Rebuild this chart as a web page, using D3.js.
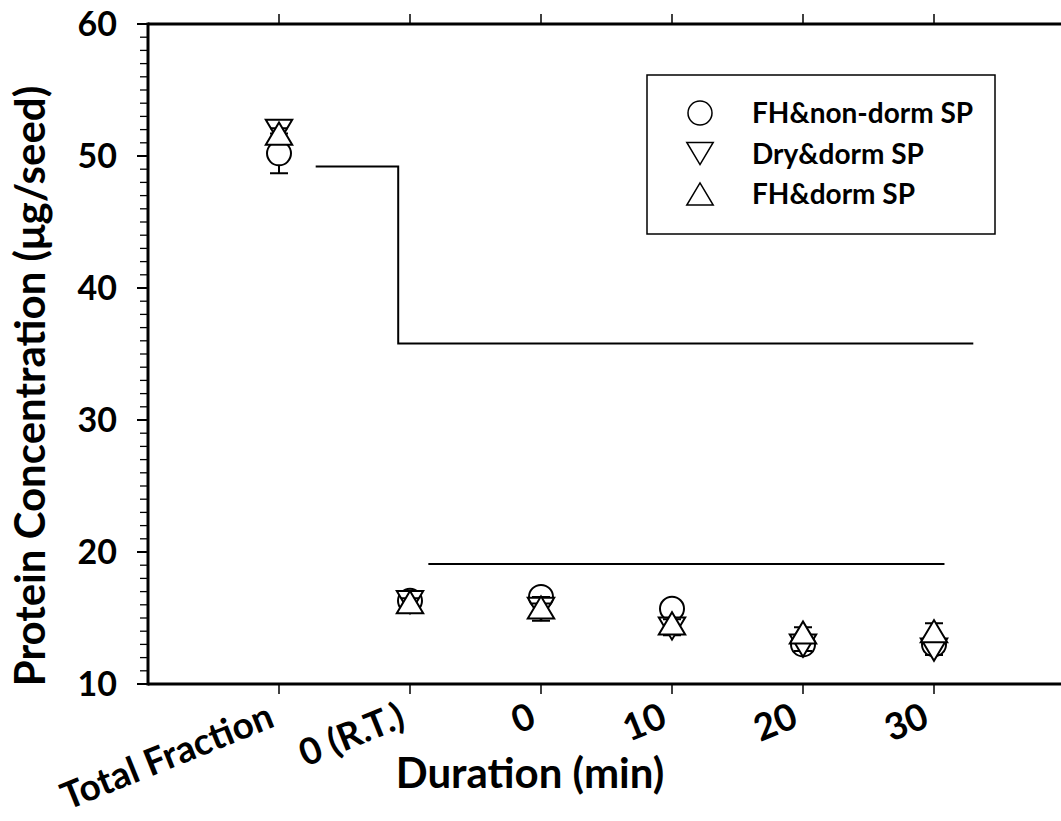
<!DOCTYPE html>
<html>
<head>
<meta charset="utf-8">
<script src="https://cdn.jsdelivr.net/npm/d3@7"></script>
<style>
  body { margin: 0; background: #fff; }
  text { font-family: Lato, "Open Sans", sans-serif; font-weight: bold; fill: #000; }
</style>
</head>
<body>
<div id="chart"></div>
<script>
// categories on the x axis
var categories = ["Total Fraction", "0 (R.T.)", "0", "10", "20", "30"];

// series values (mean, error)
var seriesNames = ["FH&non-dorm SP", "Dry&dorm SP", "FH&dorm SP"];
var circleVals = [50.2, 16.3, 16.6, 15.7, 13.0, 13.0];
var circleErr  = [1.5, 0.3, 0.3, 0.3, 0.3, 0.3];
var downVals   = [51.9, 16.2, 15.7, 14.2, 12.9, 12.6];
var downErr    = [0.5, 0.8, 0.9, 0.5, 0.4, 0.4];
var upVals     = [51.7, 16.2, 15.8, 14.6, 13.9, 14.0];
var upErr      = [0.4, 0.3, 0.3, 0.3, 0.4, 0.6];

// y ticks
var yMajor = [10, 20, 30, 40, 50, 60];
var yMinor = d3.range(10, 61, 1);

// significance lines (x in category index units, y in data units)
var stepX = [0.28, 0.91, 0.91, 5.30];
var stepY = [49.2, 49.2, 35.8, 35.8];
var flatX = [1.14, 5.08];
var flatY = [19.1, 19.1];

var W = 1061, H = 821;
var pLeft = 148, pRight = 1065, pTop = 24, pBottom = 684;

var svg = d3.select("#chart")
  .append("svg")
    .attr("width", W)
    .attr("height", H);

var x = d3.scaleLinear().domain([-1, 6]).range([pLeft, pRight]);
var y = d3.scaleLinear().domain([10, 60]).range([pBottom, pTop]);

// frame
svg.append("line").attr("x1", pLeft).attr("x2", pRight).attr("y1", pTop).attr("y2", pTop)
  .attr("stroke", "#000").attr("stroke-width", 3);
svg.append("line").attr("x1", pLeft).attr("x2", pRight).attr("y1", pBottom).attr("y2", pBottom)
  .attr("stroke", "#000").attr("stroke-width", 3);
svg.append("line").attr("x1", pLeft).attr("x2", pLeft).attr("y1", pTop - 1.5).attr("y2", pBottom + 1.5)
  .attr("stroke", "#000").attr("stroke-width", 3);

// y ticks (outward)
svg.selectAll(".ymin")
  .data(yMinor)
  .enter()
  .append("line")
    .attr("x1", pLeft - 8).attr("x2", pLeft)
    .attr("y1", function(d) { return y(d); })
    .attr("y2", function(d) { return y(d); })
    .attr("stroke", "#000").attr("stroke-width", 1.3);

svg.selectAll(".ymaj")
  .data(yMajor)
  .enter()
  .append("line")
    .attr("x1", pLeft - 11).attr("x2", pLeft)
    .attr("y1", function(d) { return y(d); })
    .attr("y2", function(d) { return y(d); })
    .attr("stroke", "#000").attr("stroke-width", 2);

svg.selectAll(".ylab")
  .data(yMajor)
  .enter()
  .append("text")
    .attr("x", 117)
    .attr("y", function(d) { return y(d) + 12; })
    .attr("text-anchor", "end")
    .style("font-size", "34px")
    .text(function(d) { return d; });

// x ticks top and bottom
var idx = d3.range(categories.length);
svg.selectAll(".xtb")
  .data(idx)
  .enter()
  .append("line")
    .attr("x1", function(d) { return x(d); })
    .attr("x2", function(d) { return x(d); })
    .attr("y1", pBottom).attr("y2", pBottom + 10)
    .attr("stroke", "#000").attr("stroke-width", 1.5);
svg.selectAll(".xtt")
  .data(idx)
  .enter()
  .append("line")
    .attr("x1", function(d) { return x(d); })
    .attr("x2", function(d) { return x(d); })
    .attr("y1", pTop - 10).attr("y2", pTop)
    .attr("stroke", "#000").attr("stroke-width", 1.5);

svg.selectAll(".xlab")
  .data(categories)
  .enter()
  .append("text")
    .attr("text-anchor", "end")
    .style("font-size", "37px")
    .attr("transform", function(d, i) {
      return "translate(" + (x(i) - 3) + "," + 726 + ")rotate(-22)";
    })
    .text(function(d) { return d; });

// axis titles
svg.append("text")
  .attr("x", 530).attr("y", 788)
  .attr("text-anchor", "middle")
  .style("font-size", "42px")
  .text("Duration (min)");

svg.append("text")
  .attr("transform", "translate(45," + 386 + ")rotate(-90)")
  .attr("text-anchor", "middle")
  .style("font-size", "42px")
  .text("Protein Concentration (\u03bcg/seed)");

// significance lines
var line = d3.line()
  .x(function(d) { return x(d[0]); })
  .y(function(d) { return y(d[1]); });

svg.append("path")
  .attr("d", line(d3.zip(stepX, stepY)))
  .attr("fill", "none").attr("stroke", "#000").attr("stroke-width", 2);
svg.append("path")
  .attr("d", line(d3.zip(flatX, flatY)))
  .attr("fill", "none").attr("stroke", "#000").attr("stroke-width", 2);

// marker shapes (centred on bounding box)
function markerPath(kind, r) {
  if (kind == "circle") {
    return "M" + (-r) + ",0A" + r + "," + r + " 0 1,0 " + r + ",0A" + r + "," + r + " 0 1,0 " + (-r) + ",0Z";
  }
  var h = r * 1.85, w = r * 1.1;
  if (kind == "down") {
    return "M" + (-w) + "," + (-h / 2) + "L" + w + "," + (-h / 2) + "L0," + (h / 2) + "Z";
  }
  return "M" + (-w) + "," + (h / 2) + "L" + w + "," + (h / 2) + "L0," + (-h / 2) + "Z";
}

var series = [
  { kind: "circle", vals: circleVals, err: circleErr, r: 12 },
  { kind: "down", vals: downVals, err: downErr, r: 12 },
  { kind: "up", vals: upVals, err: upErr, r: 12 }
];

series.forEach(function(s) {
  var g = svg.append("g");
  var pts = s.vals.map(function(v, i) { return { i: i, v: v, e: s.err[i] }; });

  g.selectAll(".eb")
    .data(pts)
    .enter()
    .append("path")
      .attr("d", function(d) {
        var cx = x(d.i), y0 = y(d.v - d.e), y1 = y(d.v + d.e);
        return "M" + cx + "," + y0 + "L" + cx + "," + y1 +
               "M" + (cx - 9) + "," + y0 + "L" + (cx + 9) + "," + y0 +
               "M" + (cx - 9) + "," + y1 + "L" + (cx + 9) + "," + y1;
      })
      .attr("fill", "none").attr("stroke", "#000").attr("stroke-width", 2);

  g.selectAll(".mk")
    .data(pts)
    .enter()
    .append("path")
      .attr("transform", function(d) { return "translate(" + x(d.i) + "," + y(d.v) + ")"; })
      .attr("d", markerPath(s.kind, s.r))
      .attr("fill", "#fff").attr("stroke", "#000").attr("stroke-width", 2);
});

// legend
var lg = svg.append("g");
lg.append("rect")
  .attr("x", 647).attr("y", 75).attr("width", 348).attr("height", 159)
  .attr("fill", "#fff").attr("stroke", "#000").attr("stroke-width", 1.5);

series.forEach(function(s, i) {
  var ly = 113 + i * 40.5;
  lg.append("path")
    .attr("transform", "translate(700," + ly + ")")
    .attr("d", markerPath(s.kind, 12))
    .attr("fill", "#fff").attr("stroke", "#000").attr("stroke-width", 1.5);
  lg.append("text")
    .attr("x", 752).attr("y", ly + 10)
    .style("font-size", "28px")
    .text(seriesNames[i]);
});
</script>
</body>
</html>
